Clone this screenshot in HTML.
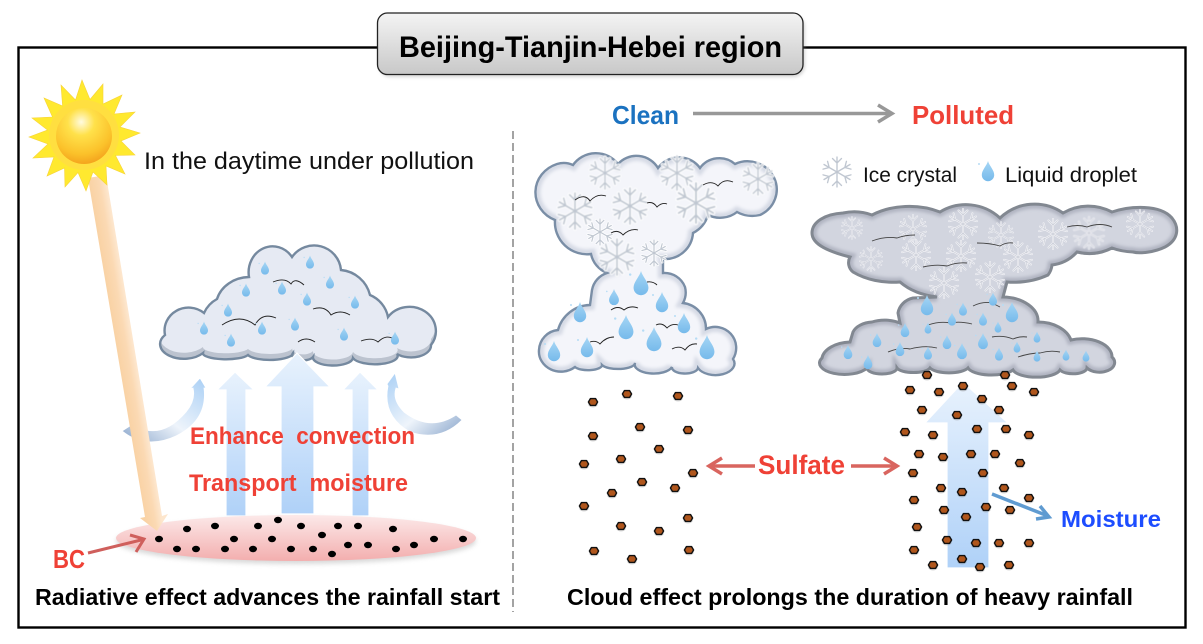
<!DOCTYPE html>
<html lang="en">
<head>
<meta charset="utf-8">
<title>Beijing-Tianjin-Hebei region</title>
<style>
html,body{margin:0;padding:0;background:#fff;width:1203px;height:644px;overflow:hidden}
svg{display:block}
text{font-family:"Liberation Sans",sans-serif;white-space:pre}
.b{font-weight:bold}
.r{fill:#ef4136;font-weight:bold}
</style>
</head>
<body>
<svg width="1203" height="644" viewBox="0 0 1203 644" xmlns="http://www.w3.org/2000/svg">
<defs>
<linearGradient id="gTitle" x1="0" y1="0" x2="0" y2="1"><stop offset="0" stop-color="#f4f4f4"/><stop offset="1" stop-color="#c8c8c8"/></linearGradient>
<linearGradient id="gUp" x1="0" y1="0" x2="0" y2="1"><stop offset="0" stop-color="#e8f2fd"/><stop offset="1" stop-color="#afd1f8"/></linearGradient>
<linearGradient id="gRay" gradientUnits="userSpaceOnUse" x1="116" y1="347" x2="133" y2="344.2"><stop offset="0" stop-color="#f9d2a4"/><stop offset=".6" stop-color="#fbd9b3"/><stop offset="1" stop-color="#fde6cd"/></linearGradient>
<linearGradient id="gEll" x1="0" y1="0" x2="0" y2="1"><stop offset="0" stop-color="#fce9e9"/><stop offset="1" stop-color="#f3aeae"/></linearGradient>
<linearGradient id="gCL" x1="0" y1="1" x2="1" y2="0"><stop offset="0" stop-color="#8aa6cb"/><stop offset=".45" stop-color="#eef4fb"/><stop offset="1" stop-color="#a9cff5"/></linearGradient>
<linearGradient id="gCR" x1="1" y1="1" x2="0" y2="0"><stop offset="0" stop-color="#8aa6cb"/><stop offset=".45" stop-color="#eef4fb"/><stop offset="1" stop-color="#a9cff5"/></linearGradient>
<linearGradient id="gDrop" x1="0" y1="0" x2="0" y2="1"><stop offset="0" stop-color="#a6d6f5"/><stop offset="1" stop-color="#76baeb"/></linearGradient>
<radialGradient id="gCore" cx=".45" cy=".25" r=".8"><stop offset="0" stop-color="#fffbe0"/><stop offset=".3" stop-color="#ffe14a"/><stop offset=".72" stop-color="#fbc12a"/><stop offset="1" stop-color="#f29c1a"/></radialGradient>
<filter id="b1" x="-20%" y="-20%" width="140%" height="140%"><feGaussianBlur stdDeviation="1.6"/></filter>
<filter id="b2" x="-20%" y="-50%" width="140%" height="200%"><feGaussianBlur stdDeviation="2.5"/></filter>
<filter id="b05" x="-50%" y="-50%" width="200%" height="200%"><feGaussianBlur stdDeviation=".25"/></filter>

<path id="c1" d="M165,335 A24,23 0 0 1 204,313 A30,30 0 0 1 217,299 A34,30 0 0 1 249,277 A24,26 0 0 1 292,257 A27,27 0 0 1 341,270 A33,33 0 0 1 370,295 A30,30 0 0 1 388,317 A24,22 0 0 1 431,345 A20,12 0 0 1 397,354 A22,8 0 0 1 353,358 A20,8 0 0 1 313,357 A10,5 0 0 1 293,353 A23,7 0 0 1 248,355 A23,6 0 0 1 203,353 A21,13 0 0 1 165,335Z"/>
<path id="c2" d="M555,220 A32,30 0 0 1 557,164 A22,22 0 0 1 573,165 A28,28 0 0 1 618,164 A25,25 0 0 1 658,168 A26,26 0 0 1 700,168 A24,24 0 0 1 735,164 A28,27 0 0 1 760,215 A26,20 0 0 1 737,212 A24,20 0 0 1 708,215 A30,30 0 0 1 693,233 A28,28 0 0 1 663,259 L663,273 A22,22 0 0 1 685,287 A22,22 0 0 1 683,303 A26,26 0 0 1 706,329 A21,21 0 0 1 733,359 A18,11 0 0 1 698,368 A13,6 0 0 1 672,367 A19,9 0 0 1 635,363 A17,6 0 0 1 602,365 A14,5 0 0 1 575,367 A22,20 0 0 1 539,350 A21,21 0 0 1 558,330 A34,34 0 0 1 590,305 L592,290 A22,22 0 0 1 607,273 A26,26 0 0 1 591,254 A32,32 0 0 1 555,220Z"/>
<path id="c3" d="M850,257 C830,252 812,245 812,233 C812,222 825,214 843,213 A40,30 0 0 1 872,215 A60,40 0 0 1 940,212 A50,50 0 0 1 1000,218 A50,50 0 0 1 1063,213 A50,50 0 0 1 1112,212 C1130,206 1160,204 1172,218 C1180,228 1178,240 1165,247 C1155,252 1140,254 1133,252 A40,20 0 0 1 1112,248 A50,50 0 0 1 1077,252 A40,40 0 0 1 1052,265 A20,20 0 0 1 1048,275 A60,40 0 0 1 1007,282 L1003,297 A36,24 0 0 1 1038,322 A34,24 0 0 1 1071,340 A30,18 0 0 1 1112,357 A14,9 0 0 1 1087,368 A14,6 0 0 1 1060,370 A24,9 0 0 1 1013,370 A24,9 0 0 1 968,368 A20,7 0 0 1 930,368 A17,6 0 0 1 897,368 A15,6 0 0 1 867,368 A24,11 0 0 1 822,358 A30,18 0 0 1 850,342 L853,332 A22,14 0 0 1 872,322 A30,20 0 0 1 900,323 L898,313 A20,18 0 0 1 913,298 L937,297 A60,40 0 0 1 900,282 A60,40 0 0 1 853,272 A12,12 0 0 1 850,257Z"/>
<clipPath id="k1"><use href="#c1"/></clipPath>
<clipPath id="k2"><use href="#c2"/></clipPath>
<clipPath id="k3"><use href="#c3"/></clipPath>

<g id="dr"><path fill="url(#gDrop)" d="M0,-.5 C.07,-.25 .31,-.05 .31,.2 A.31,.31 0 0 1 -.31,.2 C-.31,-.05 -.07,-.25 0,-.5Z"/><circle cx="-.45" cy="-.35" r=".05" fill="#b6dcf5"/></g>
<path id="arm" d="M0,0 L0,-10 M0,-6 L-3,-9 M0,-6 L3,-9"/>
<g id="fl"><use href="#arm"/><use href="#arm" transform="rotate(60)"/><use href="#arm" transform="rotate(120)"/><use href="#arm" transform="rotate(180)"/><use href="#arm" transform="rotate(240)"/><use href="#arm" transform="rotate(300)"/></g>
<g id="fa" fill="none" stroke-linecap="round" filter="url(#b05)"><use href="#fl" stroke="#fff" stroke-width="2"/><use href="#fl" stroke="#c0c7d1" stroke-width=".9"/></g>
<g id="fb" fill="none" stroke-linecap="round" filter="url(#b05)"><use href="#fl" stroke="#f2f2f6" stroke-width="1.3"/><use href="#fl" stroke="#c6cad4" stroke-width=".4"/></g>
<g id="h"><ellipse cx="0" cy="2" rx="5" ry="3.6" fill="#888" opacity=".28"/><path d="M-4.6,0 L-2.6,-3.4 L2.6,-3.4 L4.6,0 L2.6,3.4 L-2.6,3.4Z" fill="#b0561c" stroke="#111" stroke-width="1.4" stroke-linejoin="round"/></g>
<ellipse id="k" rx="4" ry="3.2" fill="#000"/>
</defs>

<!-- frame -->
<rect x="18.5" y="47.5" width="1167" height="580" fill="#fff" stroke="#000" stroke-width="2.4"/>
<rect x="379" y="16" width="426" height="61" rx="11" fill="#888" opacity=".35" filter="url(#b1)"/>
<rect x="377.5" y="13" width="425.5" height="61.5" rx="10" fill="url(#gTitle)" stroke="#222" stroke-width="1.3"/>
<text class="b" x="399" y="57" font-size="30" textLength="383" lengthAdjust="spacingAndGlyphs" fill="#000">Beijing-Tianjin-Hebei region</text>

<!-- divider -->
<line x1="513" y1="131" x2="513" y2="612" stroke="#a3a3a3" stroke-width="2" stroke-dasharray="8 4"/>

<!-- left cloud -->
<g clip-path="url(#k1)">
<use href="#c1" fill="#bcc3cf"/>
<use href="#c1" fill="#e6eaf3" transform="translate(0,-6)"/>
</g>
<use href="#c1" fill="none" stroke="#75899f" stroke-width="2.4"/>
<g fill="none" stroke="#222" stroke-width=".9">
<path d="M222,325 Q240,313 255,325 Q262,312 276,318"/>
<path d="M273,282 Q285,277 291,284 Q295,277 304,285"/>
<path d="M313,309 Q325,305 331,315 Q340,309 350,315"/>
<path d="M298,342 Q306,336 315,342"/>
<path d="M361,341 Q372,337 378,342 Q385,335 392,338"/>
</g>
<use href="#dr" transform="translate(265,268) scale(13)"/>
<use href="#dr" transform="translate(310,262) scale(13)"/>
<use href="#dr" transform="translate(330,282) scale(13)"/>
<use href="#dr" transform="translate(246,290) scale(13)"/>
<use href="#dr" transform="translate(282,288) scale(13)"/>
<use href="#dr" transform="translate(307,299) scale(13)"/>
<use href="#dr" transform="translate(355,302) scale(13)"/>
<use href="#dr" transform="translate(228,310) scale(13)"/>
<use href="#dr" transform="translate(262,328) scale(13)"/>
<use href="#dr" transform="translate(295,324) scale(13)"/>
<use href="#dr" transform="translate(204,328) scale(13)"/>
<use href="#dr" transform="translate(344,334) scale(13)"/>
<use href="#dr" transform="translate(231,340) scale(13)"/>
<use href="#dr" transform="translate(395,338) scale(13)"/>

<!-- curved arrows -->
<path d="M122,431 L133,424 Q160,442 186,412 Q196,400 193,388 L190,389 L200,378 L206,388 L204,388 Q208,420 176,436 Q146,450 122,431Z" fill="url(#gCL)" stroke="#fff" stroke-width=".8"/>
<path d="M462,420 L456,415 Q430,432 404,412 Q392,400 396,388 L399,389 L395,373 L387,384 L388,386 Q382,416 410,432 Q440,442 462,420Z" fill="url(#gCR)" stroke="#fff" stroke-width=".8"/>

<!-- up arrows -->
<g fill="url(#gUp)" stroke="#fff" stroke-width="1.2">
<path d="M235,372 L254,390 L246,390 L246,516 L226,516 L226,390 L217,390Z"/>
<path d="M297,353 L330,387 L314,387 L314,514 L281,514 L281,387 L265,387Z"/>
<path d="M360,372 L378,390 L369,390 L369,516 L352,516 L352,390 L343,390Z"/>
</g>

<!-- ellipse -->
<ellipse cx="296" cy="541" rx="180" ry="23" fill="#aaa" opacity=".45" filter="url(#b2)"/>
<ellipse cx="296" cy="538" rx="180" ry="23" fill="url(#gEll)"/>
<use href="#k" x="159" y="539"/><use href="#k" x="187" y="529"/><use href="#k" x="215" y="526"/><use href="#k" x="258" y="526"/><use href="#k" x="278" y="520"/><use href="#k" x="301" y="526"/><use href="#k" x="338" y="526"/><use href="#k" x="358" y="526"/><use href="#k" x="393" y="529"/><use href="#k" x="322" y="535"/><use href="#k" x="234" y="539"/><use href="#k" x="272" y="539"/><use href="#k" x="177" y="549"/><use href="#k" x="196" y="549"/><use href="#k" x="225" y="549"/><use href="#k" x="253" y="549"/><use href="#k" x="291" y="549"/><use href="#k" x="313" y="549"/><use href="#k" x="332" y="554"/><use href="#k" x="348" y="545"/><use href="#k" x="368" y="545"/><use href="#k" x="396" y="549"/><use href="#k" x="414" y="545"/><use href="#k" x="434" y="539"/><use href="#k" x="463" y="539"/>

<!-- sun ray -->
<path d="M88,178 L106,175 L162,516 L168,514 L157,531 L140,518 L145,517Z" fill="url(#gRay)"/>

<!-- sun -->
<polygon points="82,80 90,99.5 103,84 103,104 122,95 114,114 135,112 120,127 140,133 121,141 135,155 115.5,155.5 125,174 106,166 107,185 93,172 86,191 78,172.5 65,187 64.5,168 47,176 54,157 33,158 48,144 29,137 47.5,130 32,118 52.5,117 44,98 62.6,106 61,85 75.5,100" fill="#ffe92f" stroke="#f7d338" stroke-width=".6"/>
<circle cx="84" cy="135" r="35" fill="#ffdf40"/>
<circle cx="84" cy="136" r="28" fill="url(#gCore)"/>

<!-- left labels -->
<text x="144" y="169" font-size="24" textLength="330" lengthAdjust="spacingAndGlyphs" fill="#111">In the daytime under pollution</text>
<text class="r" x="190" y="444" font-size="24" textLength="225" lengthAdjust="spacingAndGlyphs">Enhance  convection</text>
<text class="r" x="189" y="491" font-size="24" textLength="219" lengthAdjust="spacingAndGlyphs">Transport  moisture</text>
<text class="r" x="53" y="568" font-size="26" textLength="32" lengthAdjust="spacingAndGlyphs">BC</text>
<g fill="none" stroke="#cf5f5c" stroke-width="3"><path d="M88,553 L143,539.5"/><path d="M130,535 L144,539 L136,552"/></g>
<text class="b" x="35" y="605" font-size="23" textLength="465" lengthAdjust="spacingAndGlyphs" fill="#000">Radiative effect advances the rainfall start</text>

<!-- header right -->
<text class="b" x="612" y="124" font-size="26" textLength="67" lengthAdjust="spacingAndGlyphs" fill="#1b72c0">Clean</text>
<g fill="none" stroke="#989898" stroke-width="3.5"><path d="M693,113.500 L892,113.500"/><path d="M878,105 L892,113.500 L878,122"/></g>
<text class="b" x="912" y="124" font-size="26" textLength="102" lengthAdjust="spacingAndGlyphs" fill="#ef4136">Polluted</text>

<!-- legend -->
<use href="#fa" transform="translate(837,172) scale(1.5)"/>
<text x="863" y="182" font-size="21" textLength="94" lengthAdjust="spacingAndGlyphs" fill="#111">Ice crystal</text>
<use href="#dr" transform="translate(988,171) scale(20)"/>
<text x="1005" y="182" font-size="21" textLength="132" lengthAdjust="spacingAndGlyphs" fill="#111">Liquid droplet</text>

<!-- clean cloud -->
<use href="#c2" fill="#f4f5fa"/>
<g clip-path="url(#k2)"><use href="#c2" fill="none" stroke="#d6dae5" stroke-width="10" filter="url(#b1)"/></g>
<use href="#c2" fill="none" stroke="#7a8ea6" stroke-width="2.4"/>
<use href="#fa" transform="translate(605,173) scale(1.6)"/>
<use href="#fa" transform="translate(677,173) scale(1.7)"/>
<use href="#fa" transform="translate(758,179) scale(1.6)"/>
<use href="#fa" transform="translate(575,211) scale(1.8)"/>
<use href="#fa" transform="translate(630,206) scale(1.8)"/>
<use href="#fa" transform="translate(696,203) scale(2)"/>
<use href="#fa" transform="translate(600,232) scale(1.3)"/>
<use href="#fa" transform="translate(617,257) scale(1.8)"/>
<use href="#fa" transform="translate(654,253) scale(1.3)"/>
<g fill="none" stroke="#222" stroke-width=".9">
<path d="M575,200 Q585,193 590,201 Q597,193 606,196"/>
<path d="M647,203 Q653,201 657,207 Q662,202 667,204"/>
<path d="M703,185 Q712,180 718,186 Q724,178 733,182"/>
<path d="M611,233 Q618,229 623,235 Q630,228 638,230"/>
<path d="M647,282 Q653,281 657,285"/>
<path d="M611,310 Q618,305 624,310 Q630,305 638,308"/>
<path d="M656,325 Q662,322 667,328 Q672,323 678,325"/>
<path d="M590,342 Q596,340 600,344 Q606,337 614,337"/>
<path d="M672,349 Q680,345 685,350 Q690,343 697,344"/>
</g>
<use href="#dr" transform="translate(641,283) scale(24)"/>
<use href="#dr" transform="translate(614,297) scale(16)"/>
<use href="#dr" transform="translate(662,302) scale(20)"/>
<use href="#dr" transform="translate(580,312) scale(20)"/>
<use href="#dr" transform="translate(684,323) scale(20)"/>
<use href="#dr" transform="translate(626,327) scale(24)"/>
<use href="#dr" transform="translate(554,351) scale(20)"/>
<use href="#dr" transform="translate(587,347) scale(20)"/>
<use href="#dr" transform="translate(654,339) scale(24)"/>
<use href="#dr" transform="translate(707,347) scale(24)"/>

<!-- polluted cloud -->
<use href="#c3" fill="#d2d5df"/>
<g clip-path="url(#k3)"><use href="#c3" fill="none" stroke="#b0b4c1" stroke-width="9" filter="url(#b1)"/></g>
<use href="#c3" fill="none" stroke="#828891" stroke-width="3"/>
<use href="#fb" transform="translate(852,228) scale(1.1)"/>
<use href="#fb" transform="translate(913,229) scale(1.4)"/>
<use href="#fb" transform="translate(963,224) scale(1.5)"/>
<use href="#fb" transform="translate(1001,235) scale(1.3)"/>
<use href="#fb" transform="translate(1053,234) scale(1.5)"/>
<use href="#fb" transform="translate(1089,233) scale(1.6)"/>
<use href="#fb" transform="translate(1140,224) scale(1.4)"/>
<use href="#fb" transform="translate(871,259) scale(1.2)"/>
<use href="#fb" transform="translate(916,255) scale(1.5)"/>
<use href="#fb" transform="translate(961,256) scale(1.5)"/>
<use href="#fb" transform="translate(1018,257) scale(1.5)"/>
<use href="#fb" transform="translate(944,283) scale(1.5)"/>
<use href="#fb" transform="translate(990,277) scale(1.5)"/>
<g fill="none" stroke="#444" stroke-width=".9">
<path d="M872,241 Q885,236 897,238 Q905,235 915,235"/>
<path d="M977,243 Q990,243 1000,246 Q1006,242 1013,243"/>
<path d="M1067,227 Q1078,224 1087,227 Q1100,222 1112,227"/>
<path d="M923,267 Q936,264 947,266 Q957,262 967,263"/>
<path d="M973,306 Q983,301 992,303 L1000,307"/>
<path d="M928,325 Q940,321 950,323 Q960,321 972,324"/>
<path d="M992,337 Q1003,335 1013,339 Q1020,336 1027,337"/>
<path d="M888,352 Q900,347 910,349 Q925,345 937,348"/>
<path d="M1018,357 Q1030,353 1040,353 Q1050,350 1060,352"/>
</g>
<use href="#dr" transform="translate(927,305) scale(20)"/>
<use href="#dr" transform="translate(963,309) scale(13)"/>
<use href="#dr" transform="translate(993,299) scale(13)"/>
<use href="#dr" transform="translate(1012,312) scale(20)"/>
<use href="#dr" transform="translate(952,319) scale(13)"/>
<use href="#dr" transform="translate(983,319) scale(13)"/>
<use href="#dr" transform="translate(998,327) scale(11)"/>
<use href="#dr" transform="translate(905,330) scale(14)"/>
<use href="#dr" transform="translate(928,328) scale(11)"/>
<use href="#dr" transform="translate(1037,337) scale(11)"/>
<use href="#dr" transform="translate(877,340) scale(14)"/>
<use href="#dr" transform="translate(947,342) scale(14)"/>
<use href="#dr" transform="translate(983,341) scale(16)"/>
<use href="#dr" transform="translate(1017,347) scale(11)"/>
<use href="#dr" transform="translate(848,352) scale(14)"/>
<use href="#dr" transform="translate(900,349) scale(14)"/>
<use href="#dr" transform="translate(928,353) scale(13)"/>
<use href="#dr" transform="translate(962,351) scale(16)"/>
<use href="#dr" transform="translate(999,354) scale(13)"/>
<use href="#dr" transform="translate(1037,356) scale(11)"/>
<use href="#dr" transform="translate(1066,355) scale(11)"/>
<use href="#dr" transform="translate(1086,356) scale(11)"/>
<use href="#dr" transform="translate(868,362) scale(14)"/>

<!-- big arrow right -->
<path d="M963,382 L1008,423 L989,423 L989,568 L947,568 L947,423 L925,423Z" fill="url(#gUp)" stroke="#fff" stroke-width="1.2"/>

<!-- clean dots -->
<use href="#h" x="593" y="402"/><use href="#h" x="627" y="394"/><use href="#h" x="678" y="396"/><use href="#h" x="593" y="436"/><use href="#h" x="640" y="427"/><use href="#h" x="688" y="430"/><use href="#h" x="659" y="449"/><use href="#h" x="621" y="459"/><use href="#h" x="584" y="464"/><use href="#h" x="693" y="473"/><use href="#h" x="642" y="482"/><use href="#h" x="675" y="488"/><use href="#h" x="612" y="493"/><use href="#h" x="584" y="506"/><use href="#h" x="688" y="518"/><use href="#h" x="621" y="526"/><use href="#h" x="659" y="531"/><use href="#h" x="594" y="551"/><use href="#h" x="632" y="559"/><use href="#h" x="689" y="550"/>

<!-- polluted dots -->
<use href="#h" x="927" y="375"/><use href="#h" x="1005" y="375"/><use href="#h" x="910" y="390"/><use href="#h" x="939" y="392"/><use href="#h" x="963" y="386"/><use href="#h" x="1012" y="386"/><use href="#h" x="1034" y="392"/><use href="#h" x="982" y="399"/><use href="#h" x="922" y="410"/><use href="#h" x="957" y="415"/><use href="#h" x="999" y="410"/><use href="#h" x="905" y="432"/><use href="#h" x="933" y="435"/><use href="#h" x="977" y="429"/><use href="#h" x="1006" y="429"/><use href="#h" x="1029" y="435"/><use href="#h" x="919" y="454"/><use href="#h" x="943" y="457"/><use href="#h" x="971" y="454"/><use href="#h" x="995" y="454"/><use href="#h" x="1020" y="463"/><use href="#h" x="913" y="473"/><use href="#h" x="983" y="473"/><use href="#h" x="941" y="488"/><use href="#h" x="962" y="492"/><use href="#h" x="1004" y="488"/><use href="#h" x="1029" y="498"/><use href="#h" x="914" y="500"/><use href="#h" x="944" y="510"/><use href="#h" x="966" y="517"/><use href="#h" x="986" y="507"/><use href="#h" x="1010" y="510"/><use href="#h" x="917" y="527"/><use href="#h" x="947" y="540"/><use href="#h" x="976" y="543"/><use href="#h" x="999" y="543"/><use href="#h" x="1029" y="543"/><use href="#h" x="914" y="550"/><use href="#h" x="962" y="559"/><use href="#h" x="933" y="565"/><use href="#h" x="980" y="567"/><use href="#h" x="1009" y="565"/>

<!-- sulfate -->
<text class="r" x="758" y="474" font-size="27" textLength="87" lengthAdjust="spacingAndGlyphs">Sulfate</text>
<g fill="none" stroke="#d9655f" stroke-width="3.5"><path d="M755,466 L710,466"/><path d="M722,458 L709,466 L722,474"/><path d="M851,466 L895,466"/><path d="M884,458 L897,466 L884,474"/></g>

<!-- moisture -->
<g fill="none" stroke="#5f9bd1" stroke-width="3.5"><path d="M992,494 L1048,516"/><path d="M1040,506 L1049,517 L1036,519"/></g>
<text class="b" x="1061" y="527" font-size="23" textLength="100" lengthAdjust="spacingAndGlyphs" fill="#1d4dff">Moisture</text>

<!-- bottom right -->
<text class="b" x="567" y="605" font-size="23" textLength="566" lengthAdjust="spacingAndGlyphs" fill="#000">Cloud effect prolongs the duration of heavy rainfall</text>
</svg>
</body>
</html>
